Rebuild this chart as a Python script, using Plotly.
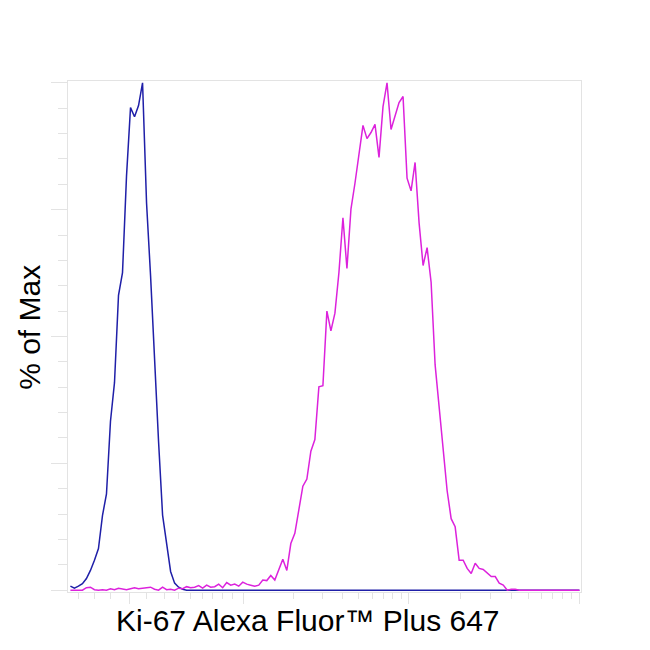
import math
import plotly.graph_objects as go

# histogram bins (128 channels) and the two overlaid histograms, % of max
bins = list(range(128))

isotype = [
    0.8, 0.4, 0.8, 1.3, 2.3, 3.9, 5.9, 8.2, 14.7, 19.0,
    33.3, 40.9, 58.1, 62.6, 81.6, 95.1, 93.3, 95.5, 100.0, 76.3,
    62.0, 45.0, 29.2, 14.8, 8.8, 3.7, 1.4, 0.6, 0.2,
] + [0.0] * 99

ki67 = [
    0.0, 0.0, 0.0, 0.0, 0.5, 0.6, 0.1, 0.0, 0.1, 0.0,
    0.3, 0.1, 0.4, 0.2, 0.1, 0.3, 0.5, 0.3, 0.4, 0.5,
    0.6, 0.2, 0.0, 0.6, 0.1, 0.2, 0.0, 0.4, 0.3, 0.7,
    0.5, 0.6, 0.9, 0.4, 1.0, 0.6, 0.7, 1.2, 0.5, 1.5,
    1.0, 1.2, 0.8, 1.6, 1.2, 1.0, 0.8, 1.0, 2.0, 1.9,
    2.9, 2.0, 3.9, 6.1, 3.9, 9.2, 11.2, 15.7, 20.5, 21.9,
    27.4, 29.7, 40.1, 40.3, 55.0, 51.1, 54.6, 62.6, 73.4, 63.4,
    75.1, 80.2, 85.5, 91.6, 89.0, 90.2, 91.8, 85.3, 95.3, 100.0,
    90.8, 93.3, 96.1, 97.3, 81.2, 78.7, 84.3, 72.4, 64.0, 67.5,
    60.7, 44.4, 36.6, 28.2, 19.6, 14.1, 12.5, 5.9, 5.9, 4.3,
    3.3, 5.3, 4.3, 4.1, 3.3, 2.7, 2.7, 1.4, 1.0, 0.0,
    0.2, 0.2, 0.0,
] + [0.0] * 15

# faint biexponential-style tick marks (bin units)
x_major = [14.8, 43.2, 84.4, 127.0]
x_minor = [2.0, 6.0, 10.0, 19.0, 23.5, 27.0, 30.0, 33.0, 35.5, 38.0, 40.5]
for lo, hi in [(43.2, 84.4), (84.4, 127.0)]:
    for m in (2, 3, 4, 5, 6, 7, 8, 9):
        x_minor.append(lo + (hi - lo) * math.log10(m))

grey = "#e3e3e3"

fig = go.Figure()
fig.add_trace(go.Scatter(
    x=bins, y=isotype, mode="lines",
    line=dict(color="#1f1fa8", width=1.5),
    showlegend=False, hoverinfo="skip",
))
fig.add_trace(go.Scatter(
    x=bins, y=ki67, mode="lines",
    line=dict(color="#dc22dc", width=1.5),
    showlegend=False, hoverinfo="skip",
))

# page body adds ~8px offset, margins compensate for it
fig.update_layout(
    width=650, height=650,
    margin=dict(l=60, r=77, t=73, b=66),
    paper_bgcolor="white",
    plot_bgcolor="white",
    font=dict(family="Liberation Sans, Arial, sans-serif", color="black"),
    xaxis=dict(
        range=[-0.6, 127.4],
        showgrid=False, zeroline=False,
        showline=True, mirror=True, linecolor=grey, linewidth=1,
        ticks="outside", tickvals=x_major, ticklen=11, tickcolor=grey,
        showticklabels=False,
        minor=dict(tickmode="array", tickvals=x_minor, ticks="outside",
                   ticklen=6, tickcolor=grey),
    ),
    yaxis=dict(
        range=[-0.35, 100.35],
        showgrid=False, zeroline=False,
        showline=True, mirror=True, linecolor=grey, linewidth=1,
        ticks="outside", tickvals=[0, 25, 50, 75, 100], ticklen=16,
        tickcolor=grey, showticklabels=False,
        minor=dict(tickmode="array",
                   tickvals=[v for v in range(5, 100, 5) if v % 25],
                   ticks="outside", ticklen=9, tickcolor=grey),
    ),
    annotations=[
        dict(text="Ki-67 Alexa Fluor™ Plus 647", xref="paper", yref="paper",
             x=0.468, y=-0.055, xanchor="center", yanchor="middle",
             showarrow=False, font=dict(size=30)),
        dict(text="% of Max", xref="paper", yref="paper",
             x=-0.074, y=0.517, xanchor="center", yanchor="middle",
             textangle=-90, showarrow=False, font=dict(size=30)),
    ],
)

fig.write_html("out.html")
